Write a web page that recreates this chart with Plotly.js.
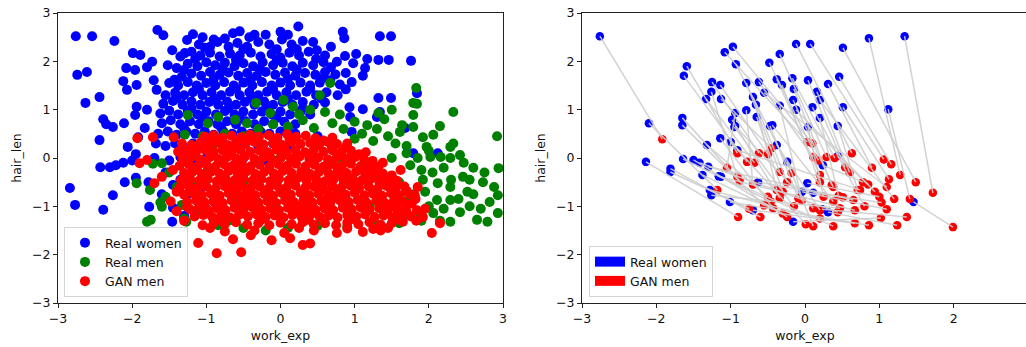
<!DOCTYPE html>
<html><head><meta charset="utf-8">
<script src="https://cdn.plot.ly/plotly-3.0.1.min.js"></script>
<style>html,body{margin:0;padding:0;overflow:hidden;background:#fff}#chart{width:1030px;height:347px}</style>
</head><body><div id="chart"></div>
<script>
// Left panel: real women (blue)
const realWomen = [
[-1.66,2.65],[-1.58,2.54],[-1.18,2.56],[-1.05,2.50],[-0.64,2.58],[-0.55,2.62],[-0.42,2.50],[-0.2,2.55],[0.0,2.61],[0.24,2.72],[-0.75,2.47],[0.84,2.61],[1.34,2.52],[1.49,2.52],[0.86,2.48],
[-2.76,2.52],[-2.54,2.52],[-2.24,2.42],[-2.74,1.72],[-2.61,1.78],
[-1.26,2.44],[-1.46,2.23],[-1.29,2.17],[-1.1,2.35],[-0.95,2.3],[-0.85,2.4],[-0.7,2.3],[-0.58,2.38],[-0.45,2.3],[-0.3,2.4],[-0.15,2.35],[0.02,2.45],[0.15,2.35],[0.3,2.42],[0.44,2.40],[0.68,2.30],[0.49,2.23],[-0.05,2.25],
[-1.99,2.17],[-1.89,2.13],[-1.73,1.99],[-1.52,1.92],[-1.35,2.1],[-1.2,2.2],[-1.08,2.12],[-0.95,2.18],[-0.82,2.1],[-0.68,2.16],[-0.55,2.12],[-0.4,2.18],[-0.27,2.1],[-0.12,2.15],[0.0,2.08],[0.12,2.18],[0.25,2.12],[0.38,2.2],[0.6,2.12],[0.87,2.11],[1.02,2.15],[0.76,1.99],[0.98,1.96],[1.17,2.05],[1.32,2.03],[1.46,2.03],[1.76,2.01],
[-2.08,1.86],[-1.96,1.82],[-1.80,1.88],[-1.40,1.86],[-1.25,1.95],[-1.12,1.9],[-1.0,1.98],[-0.88,1.92],[-0.75,1.97],[-0.62,1.9],[-0.5,1.96],[-0.37,1.9],[-0.24,1.98],[-0.1,1.92],[0.03,1.97],[0.16,1.9],[0.3,1.97],[0.44,1.92],[0.58,1.98],[1.14,1.86],
[-2.12,1.59],[-1.71,1.61],[-1.33,1.68],[-1.2,1.75],[-1.07,1.7],[-0.95,1.78],[-0.82,1.72],[-0.7,1.77],[-0.57,1.7],[-0.45,1.76],[-0.32,1.7],[-0.2,1.78],[-0.07,1.72],[0.06,1.77],[0.2,1.7],[0.33,1.76],[0.47,1.72],[0.6,1.78],[0.74,1.73],[1.11,1.70],[0.88,1.76],
[-2.07,1.41],[-1.94,1.51],[-1.67,1.41],[-1.5,1.55],[-1.38,1.5],[-1.25,1.57],[-1.13,1.5],[-1.0,1.55],[-0.88,1.5],[-0.76,1.57],[-0.63,1.5],[-0.5,1.56],[-0.38,1.5],[-0.25,1.57],[-0.12,1.5],[0.0,1.56],[0.13,1.5],[0.27,1.56],[0.4,1.5],[0.53,1.56],[0.67,1.61],[0.8,1.52],[0.96,1.57],
[-1.55,1.3],[-1.42,1.35],[-1.3,1.3],[-1.18,1.36],[-1.05,1.3],[-0.93,1.36],[-0.8,1.3],[-0.68,1.37],[-0.55,1.3],[-0.42,1.36],[-0.3,1.3],[-0.18,1.37],[-0.05,1.3],[0.08,1.36],[0.21,1.3],[0.35,1.37],[0.48,1.3],[0.62,1.36],[0.77,1.3],[1.32,1.24],[1.49,1.24],[1.84,1.34],
[-2.63,1.14],[-2.44,1.26],[-1.94,1.06],[-1.8,1.0],[-1.58,1.12],[-1.45,1.18],[-1.32,1.1],[-1.2,1.17],[-1.08,1.1],[-0.96,1.16],[-0.84,1.1],[-0.72,1.17],[-0.6,1.1],[-0.48,1.16],[-0.35,1.1],[-0.22,1.17],[-0.1,1.1],[0.03,1.16],[0.16,1.1],[0.3,1.16],[0.45,1.1],[0.6,1.15],[0.93,1.05],[1.11,1.01],[1.34,0.95],
[-1.96,0.89],[-1.62,0.92],[-1.5,0.98],[-1.38,0.9],[-1.25,0.97],[-1.12,0.9],[-1.0,0.96],[-0.87,0.9],[-0.75,0.97],[-0.62,0.9],[-0.5,0.96],[-0.37,0.9],[-0.25,0.96],[-0.12,0.9],[0.0,0.96],[0.13,0.9],[0.27,0.96],[0.4,0.9],[0.94,0.85],[1.30,0.85],
[-2.39,0.8],[-2.35,0.70],[-2.26,0.64],[-2.11,0.72],[-1.83,0.62],[-1.6,0.72],[-1.48,0.78],[-1.35,0.7],[-1.22,0.76],[-1.1,0.7],[-0.97,0.76],[-0.85,0.7],[-0.72,0.76],[-0.6,0.7],[-0.47,0.76],[-0.35,0.7],[-0.22,0.76],[-0.1,0.7],[0.05,0.75],[0.2,0.7],[0.96,0.54],[1.68,0.62],
[-2.44,0.37],[-2.06,0.23],[-1.92,0.43],[-1.65,0.5],[-1.52,0.55],[-1.4,0.48],[-1.27,0.55],[-1.15,0.5],[-1.02,0.55],[-0.9,0.48],[-0.77,0.55],[-0.65,0.5],[-0.52,0.55],[-0.4,0.5],[-0.27,0.55],[-0.15,0.5],[0.0,0.55],[0.2,0.5],[0.5,0.45],
[-1.95,0.08],[-1.68,0.3],[-1.55,0.25],[-1.42,0.3],[-1.3,0.22],[-1.18,0.3],[-1.05,0.25],[-0.9,0.3],[-0.7,0.25],[-0.5,0.3],[-0.3,0.25],[-0.1,0.3],[0.1,0.25],[1.79,0.1],[2.12,0.1],
[-2.43,-0.19],[-2.3,-0.19],[-2.22,-0.15],[-2.12,-0.1],[-2.0,-0.05],[-1.7,0.0],[-1.5,-0.05],[-1.35,0.02],[-1.2,-0.05],[-1.0,0.0],[-0.8,-0.05],[-0.5,0.0],[-0.2,-0.05],[0.2,0.0],
[-2.84,-0.62],[-2.77,-0.97],[-2.39,-1.07],[-2.26,-0.77],[-2.10,-0.50],[-1.95,-0.41],[-1.78,-0.50],[-1.77,-1.01],[-1.45,-1.03],[-1.46,-1.32],[-1.13,-1.12],[-1.45,-0.56],[-1.55,-0.3],[-1.35,-0.45],[-1.25,-0.75],[-1.6,-0.75],[-1.05,-0.6],[-0.9,-0.9],[-1.3,-1.2],[-1.2,-0.3],
[-0.9,2.45],[-0.35,2.55],[0.1,2.55],[-1.02,2.28],[-0.5,2.25],[0.22,2.25],[-1.15,2.05],[-0.6,2.03],[-0.05,2.02],[0.48,2.05],[-1.3,1.82],[-0.78,1.84],[-0.28,1.84],[0.22,1.83],[0.68,1.88],[-1.43,1.62],[-0.9,1.64],[-0.4,1.63],[0.1,1.64],[0.58,1.66],
[-1.1,1.43],[-0.6,1.44],[-0.1,1.43],[0.4,1.44],[0.88,1.42],[-1.4,1.23],[-0.88,1.22],[-0.4,1.23],[0.1,1.22],[0.55,1.23],[-1.2,1.03],[-0.7,1.03],[-0.2,1.02],[0.3,1.03],[-1.05,0.83],[-0.55,0.82],[-0.05,0.83],[-1.3,0.62],[-0.8,0.63],[-0.3,0.62],[0.1,0.6]
];
// Left panel: real men (green)
const realMen = [
[-0.33,1.14],[-0.14,0.93],[0.04,1.20],[0.17,1.06],[0.53,1.30],[0.67,1.55],[0.6,0.95],[1.83,1.45],[1.79,1.14],[1.84,1.12],[2.33,0.95],[-1.25,0.89],[-0.98,0.72],[-0.84,0.85],[-0.61,0.79],[-0.45,0.72],[-1.29,0.48],[1.32,0.93],[1.17,0.68],[1.79,0.89],[1.64,0.68],[1.61,0.54],[1.79,0.64],[2.15,0.66],[2.06,0.48],[1.92,0.43],[2.92,0.45],[-0.3,0.6],[-0.1,0.7],[0.1,0.65],[0.3,0.78],[0.45,0.62],[0.7,0.72],[0.85,0.6],[1.0,0.75],[1.1,0.5],[1.3,0.6],[1.45,0.45],[0.25,0.9],[0.4,1.0],[0.8,0.9],[1.0,0.4],[1.25,0.35],[-0.75,0.5],[-0.5,0.45],[-1.05,0.45],[-0.9,0.3],[-1.15,0.2],[1.4,0.8],[1.55,0.3],[1.7,0.25],[1.5,1.0],
[1.97,0.23],[2.29,0.23],[2.33,0.3],[2.02,0.02],[2.16,0.02],[2.29,0.0],[2.42,0.06],[2.47,-0.1],[2.94,-0.21],[2.46,-0.39],[2.55,-0.45],[2.73,-0.50],[2.93,-0.77],[2.93,-1.14],[2.52,-0.70],[2.6,-0.75],[2.29,-0.60],[2.12,-0.52],[1.92,-0.45],[2.11,-0.87],[2.29,-0.87],[2.42,-1.12],[2.29,-1.32],[2.06,-1.14],[2.65,-1.28],[2.79,-1.32],[2.82,-0.91],[2.88,-0.6],[1.85,0.0],[1.75,-0.15],[1.9,-0.25],[2.05,-0.3],[2.2,-0.2],[1.8,-0.75],[1.95,-0.7],[2.0,-1.0],[2.2,-1.05],[2.15,-1.3],[1.9,-1.3],[2.55,-1.0],[2.7,-1.05],[2.6,-0.2],[2.75,-0.3],[1.7,0.1],[2.3,-0.45],[1.85,-1.1],[2.4,-0.85],[2.0,0.15],
[-1.60,-0.11],[-1.72,-0.12],[-1.94,-0.52],[-1.76,-0.66],[-1.80,-1.32],[-1.75,-1.28],[-1.60,-1.01],[-1.62,-0.92],[-1.27,-1.32],[-1.3,-1.25],[-1.33,-0.97],[-1.09,-0.91],[-1.1,-1.05],[-0.84,-1.39],[-0.7,-1.3],[-0.5,-1.45],[-1.5,-0.3],[-1.4,-0.6],[-1.2,-0.5],[-1.0,-0.3],[-0.75,-1.2],[-1.55,-0.8],
[-0.2,-1.5],[0.1,-1.45],[0.5,-1.4],[0.9,-1.42],[1.3,-1.4],[1.6,-1.35],[1.7,-0.9],[1.6,-0.5],[1.5,0.0],[1.65,-1.2],
[0.0,0.0],[0.5,-0.5],[1.0,-0.5],[0.3,-1.0],[-0.5,-0.5],[0.8,0.0],[1.2,-1.0],[-0.3,-1.0]
];
// Left panel: GAN men (red)
const ganMen = [
[-1.02,0.44],[-0.9,0.47],[-0.78,0.42],[-0.66,0.46],[-0.53,0.43],[-0.41,0.48],[-0.29,0.44],[-0.16,0.47],[-0.04,0.42],[0.09,0.49],[0.21,0.44],[0.34,0.46],[0.47,0.41],
[-1.33,0.30],[-1.2,0.27],[-1.08,0.32],[-0.96,0.28],[-0.84,0.31],[-0.72,0.27],[-0.6,0.32],[-0.47,0.29],[-0.35,0.33],[-0.23,0.28],[-0.1,0.31],[0.02,0.27],[0.15,0.33],[0.27,0.29],[0.4,0.31],[0.52,0.27],[0.64,0.33],[0.76,0.29],[0.88,0.22],
[-1.38,0.13],[-1.26,0.16],[-1.14,0.12],[-1.02,0.17],[-0.9,0.13],[-0.78,0.16],[-0.66,0.12],[-0.54,0.17],[-0.41,0.13],[-0.29,0.16],[-0.17,0.12],[-0.05,0.17],[0.08,0.13],[0.2,0.16],[0.33,0.12],[0.45,0.17],[0.58,0.13],[0.7,0.16],[0.82,0.12],[0.95,0.15],[1.06,0.08],
[-1.32,-0.01],[-1.2,0.02],[-1.08,-0.03],[-0.96,0.01],[-0.84,-0.02],[-0.72,0.02],[-0.6,-0.01],[-0.48,0.03],[-0.35,-0.02],[-0.23,0.01],[-0.11,-0.03],[0.01,0.02],[0.14,-0.01],[0.26,0.03],[0.39,-0.02],[0.51,0.01],[0.64,-0.03],[0.76,0.02],[0.88,-0.01],[1.01,0.02],[1.13,-0.04],[1.24,-0.06],
[-1.36,-0.16],[-1.24,-0.13],[-1.12,-0.17],[-1.0,-0.14],[-0.88,-0.18],[-0.76,-0.13],[-0.64,-0.16],[-0.52,-0.12],[-0.4,-0.17],[-0.28,-0.14],[-0.15,-0.18],[-0.03,-0.13],[0.09,-0.16],[0.21,-0.12],[0.34,-0.17],[0.46,-0.14],[0.58,-0.18],[0.71,-0.13],[0.83,-0.16],[0.95,-0.12],[1.08,-0.17],[1.2,-0.14],[1.32,-0.18],
[-1.3,-0.31],[-1.18,-0.28],[-1.06,-0.33],[-0.94,-0.29],[-0.82,-0.32],[-0.7,-0.27],[-0.58,-0.31],[-0.46,-0.28],[-0.34,-0.33],[-0.22,-0.29],[-0.09,-0.32],[0.03,-0.27],[0.15,-0.31],[0.28,-0.28],[0.4,-0.33],[0.52,-0.29],[0.65,-0.32],[0.77,-0.27],[0.89,-0.31],[1.02,-0.28],[1.14,-0.33],[1.26,-0.29],[1.38,-0.32],[1.5,-0.36],
[-1.34,-0.46],[-1.22,-0.43],[-1.1,-0.47],[-0.98,-0.44],[-0.86,-0.48],[-0.74,-0.43],[-0.62,-0.46],[-0.5,-0.42],[-0.38,-0.47],[-0.26,-0.44],[-0.14,-0.48],[-0.02,-0.43],[0.11,-0.46],[0.23,-0.42],[0.35,-0.47],[0.48,-0.44],[0.6,-0.48],[0.72,-0.43],[0.85,-0.46],[0.97,-0.42],[1.09,-0.47],[1.21,-0.44],[1.33,-0.48],[1.45,-0.43],[1.57,-0.47],
[-1.36,-0.61],[-1.24,-0.58],[-1.12,-0.62],[-1.0,-0.59],[-0.88,-0.63],[-0.76,-0.58],[-0.64,-0.61],[-0.52,-0.57],[-0.4,-0.62],[-0.28,-0.59],[-0.16,-0.63],[-0.04,-0.58],[0.08,-0.61],[0.2,-0.57],[0.33,-0.62],[0.45,-0.59],[0.57,-0.63],[0.7,-0.58],[0.82,-0.61],[0.94,-0.57],[1.06,-0.62],[1.19,-0.59],[1.31,-0.63],[1.43,-0.58],[1.55,-0.62],[1.67,-0.59],
[-1.3,-0.76],[-1.18,-0.73],[-1.06,-0.77],[-0.94,-0.74],[-0.82,-0.78],[-0.7,-0.73],[-0.58,-0.76],[-0.46,-0.72],[-0.34,-0.77],[-0.22,-0.74],[-0.1,-0.78],[0.02,-0.73],[0.14,-0.76],[0.27,-0.72],[0.39,-0.77],[0.51,-0.74],[0.64,-0.78],[0.76,-0.73],[0.88,-0.76],[1.0,-0.72],[1.13,-0.77],[1.25,-0.74],[1.37,-0.78],[1.49,-0.73],[1.61,-0.77],[1.74,-0.75],
[-1.26,-0.91],[-1.14,-0.88],[-1.02,-0.92],[-0.9,-0.89],[-0.78,-0.93],[-0.66,-0.88],[-0.54,-0.91],[-0.42,-0.87],[-0.3,-0.92],[-0.18,-0.89],[-0.06,-0.93],[0.06,-0.88],[0.18,-0.91],[0.31,-0.87],[0.43,-0.92],[0.55,-0.89],[0.67,-0.93],[0.8,-0.88],[0.92,-0.91],[1.04,-0.87],[1.16,-0.92],[1.29,-0.89],[1.41,-0.93],[1.53,-0.88],[1.65,-0.91],[1.77,-0.94],
[-1.22,-1.06],[-1.1,-1.03],[-0.98,-1.07],[-0.86,-1.04],[-0.74,-1.08],[-0.62,-1.03],[-0.5,-1.06],[-0.38,-1.02],[-0.26,-1.07],[-0.14,-1.04],[-0.02,-1.08],[0.1,-1.03],[0.22,-1.06],[0.35,-1.02],[0.47,-1.07],[0.59,-1.04],[0.71,-1.08],[0.84,-1.03],[0.96,-1.06],[1.08,-1.02],[1.2,-1.07],[1.33,-1.04],[1.45,-1.08],[1.57,-1.03],[1.69,-1.07],[1.84,-1.08],
[-1.16,-1.21],[-1.04,-1.18],[-0.92,-1.22],[-0.8,-1.19],[-0.68,-1.23],[-0.56,-1.18],[-0.44,-1.21],[-0.32,-1.17],[-0.2,-1.22],[-0.08,-1.19],[0.04,-1.23],[0.16,-1.18],[0.28,-1.21],[0.41,-1.17],[0.53,-1.22],[0.65,-1.19],[0.77,-1.23],[0.9,-1.18],[1.02,-1.21],[1.14,-1.17],[1.27,-1.22],[1.39,-1.19],[1.51,-1.23],[1.63,-1.18],[1.76,-1.21],[1.92,-1.22],
[-1.05,-1.39],[-0.9,-1.34],[-0.75,-1.37],[-0.6,-1.33],[-0.45,-1.38],[-0.3,-1.35],[-0.15,-1.39],[0.0,-1.34],[0.15,-1.37],[0.3,-1.33],[0.45,-1.38],[0.6,-1.35],[0.75,-1.39],[0.9,-1.34],[1.05,-1.37],[1.2,-1.33],[1.35,-1.38],[1.5,-1.35],[1.65,-1.32],[2.15,-1.35],
[-0.75,-1.52],[-0.35,-1.5],[0.05,-1.55],[0.45,-1.5],[0.76,-1.55],[1.11,-1.53],[1.45,-1.45],[2.04,-1.55],
[-1.93,0.41],[-1.72,0.43],[-1.44,0.43],[-1.90,-0.11],[-1.80,-0.04],[-1.60,-0.39],[-1.70,-0.52],[-1.40,-0.70],[-1.26,-1.01],[-1.11,-1.76],[-0.86,-1.97],[-0.53,-1.95],[-0.64,-1.68],[-0.12,-1.70],[0.30,-1.80],[0.40,-1.77],[1.81,-0.77],[1.70,-1.12],[0.13,-1.66],[-0.4,-1.6],[1.35,-1.5],
[-0.95,0.38],[-0.45,0.36],[0.12,0.40],[0.58,0.36],[-1.15,0.22],[-0.62,0.21],[0.05,0.21],[0.69,0.25],[-1.23,0.06],[-0.71,0.08],[-0.15,0.06],[0.42,0.07],[0.98,0.05],[-1.18,-0.22],[-0.55,-0.22],[0.1,-0.23],[0.62,-0.22],[1.16,-0.24],[-1.25,-0.38],[-0.8,-0.39],[-0.27,-0.37],[0.3,-0.38],[0.83,-0.37],[1.32,-0.4],
[-1.28,-0.53],[-0.7,-0.52],[-0.09,-0.53],[0.52,-0.52],[1.04,-0.54],[1.5,-0.53],[-1.2,-0.68],[-0.59,-0.67],[0.0,-0.68],[0.63,-0.67],[1.24,-0.68],[1.7,-0.68],[-1.12,-0.83],[-0.5,-0.82],[0.1,-0.84],[0.72,-0.82],[1.33,-0.83],[1.82,-0.85],[-1.06,-0.98],[-0.43,-0.97],[0.21,-0.99],[0.85,-0.98],[1.47,-0.99],
[-0.97,-1.13],[-0.33,-1.12],[0.3,-1.13],[0.95,-1.12],[1.58,-1.13],[-0.85,-1.28],[-0.25,-1.27],[0.38,-1.28],[1.0,-1.27],[1.6,-1.27],[1.83,-1.3],[-0.95,-1.45],[0.25,-1.45],[0.9,-1.46],[1.25,-1.47],[1.85,-0.6],[1.95,-1.05],[1.62,-0.25],[1.38,-0.1],[1.15,0.12],[0.9,0.3],[0.7,0.42],[-1.45,-0.25],[-1.48,-0.9],[-1.4,-1.1],[-1.3,-1.3]
];
// Right panel: sampled real women and their GAN counterparts (paired by index)
const sampleWomen = [
[-2.76,2.52],[-2.10,0.72],[-2.14,-0.08],[-1.81,-0.22],[-1.65,0.83],[-1.65,0.68],[-1.59,1.90],[-1.63,1.70],[-1.64,-0.02],[-1.50,-0.04],
[-1.33,1.22],[-1.25,1.57],[-1.14,1.51],[-1.26,1.37],[-1.13,1.22],[-1.08,2.19],[-0.97,2.30],[-0.93,1.94],[-1.14,0.41],[-1.32,0.27],
[-0.98,0.79],[-0.95,0.64],[-1.00,0.33],[-0.79,1.55],[-0.62,1.57],[-0.70,1.26],[-0.66,1.10],[-0.65,0.85],[-0.79,0.99],[-0.48,1.97],
[-0.47,0.66],[-0.34,2.15],[-0.12,2.36],[0.07,2.36],[-0.38,1.63],[-0.31,1.51],[-0.17,1.65],[-0.15,1.43],[-0.16,1.20],[-0.34,1.08],
[0.04,1.61],[0.16,1.37],[0.31,1.53],[0.46,1.68],[0.20,0.83],[0.04,0.64],[0.44,0.66],[-0.94,0.93],[-0.94,0.66],[-0.38,0.27],
[0.51,2.28],[0.86,2.48],[1.34,2.52],[0.51,1.05],[1.12,1.01],[-0.44,0.68],[0.24,-0.15],[0.44,0.04],[-0.24,-0.08],[-1.81,-0.29],
[-1.38,-0.35],[-1.13,-0.39],[-1.28,-0.66],[-1.26,-0.77],[-1.01,-0.91],[-0.70,-1.08],[-0.63,-0.50],[-1.42,-0.10],[-1.30,-0.18],[-1.16,-0.38],
[-0.91,0.16],[0.03,-0.52],[0.11,-0.72],[0.31,-1.12],[-0.16,-1.32],[0.23,-1.06],[1.46,-0.91],[-0.04,-0.70],[-0.12,1.00],[0.20,1.20],
[-0.55,1.35],[0.10,1.05]
];
const sampleGan = [
[-1.92,0.39],[-1.18,-0.66],[-0.90,-1.22],[-0.60,-1.22],[-0.88,-0.47],[-0.55,-0.98],[-0.91,0.10],[-0.78,-0.08],[-0.46,-0.90],[-0.24,-1.22],
[-0.68,-0.10],[-0.62,0.10],[-0.50,0.08],[-0.91,-0.39],[-0.45,0.20],[0.03,0.33],[0.10,0.30],[-0.18,-0.31],[-0.43,-1.04],[-0.50,-0.80],
[-0.34,-0.83],[-0.15,-1.00],[0.01,-1.37],[-0.34,-0.29],[0.11,0.02],[-0.24,-0.50],[-0.38,-0.66],[-0.30,-0.70],[-0.70,-0.55],[0.18,-0.05],
[-0.09,-0.83],[0.29,0.02],[0.63,0.10],[1.06,-0.03],[0.20,-0.35],[0.20,-0.50],[0.40,0.00],[0.36,-0.56],[0.38,-0.60],[-0.04,-0.88],
[0.54,-0.19],[0.60,-0.30],[0.90,-0.20],[1.16,-0.13],[0.45,-0.78],[0.25,-0.80],[0.71,-0.66],[-1.05,-0.20],[0.11,-1.04],[0.20,-1.08],
[1.49,-0.50],[1.28,-0.35],[1.72,-0.72],[1.13,-0.44],[1.41,-0.85],[0.38,-0.90],[0.78,-0.50],[0.85,-0.55],[0.11,-1.41],[-0.75,-1.05],
[-0.30,-1.15],[0.38,-1.41],[0.20,-1.25],[0.47,-1.04],[0.86,-1.39],[0.67,-1.35],[0.51,-0.81],[0.44,-1.12],[0.65,-0.87],[0.67,-1.08],
[0.74,-0.66],[1.00,-0.80],[1.03,-0.92],[1.24,-1.39],[1.02,-1.24],[1.37,-1.22],[1.99,-1.43],[1.10,-1.06],[0.94,-0.70],[1.20,-0.85],
[1.10,-0.60],[0.80,-1.00]
];
const seriesNames = ['Real women', 'Real men', 'GAN men'];
const seriesColors = ['blue', 'green', 'red'];
const tickVals = [-3, -2, -1, 0, 1, 2, 3];

const W = 1030;
const FONT = {family: 'DejaVu Sans, sans-serif', size: 12.5, color: '#111'};
const xs = a => a.map(p => p[0]);
const ys = a => a.map(p => p[1]);

const traces = [];
[realWomen, realMen, ganMen].forEach((s, i) => {
  traces.push({type: 'scatter', mode: 'markers', x: xs(s), y: ys(s), name: seriesNames[i],
    marker: {color: seriesColors[i], size: 10, line: {width: 0}}, xaxis: 'x', yaxis: 'y', legend: 'legend', hoverinfo: 'skip'});
});
traces.push({type: 'scatter', mode: 'markers', x: xs(sampleWomen), y: ys(sampleWomen), showlegend: false,
  marker: {color: 'blue', size: 8.5, line: {width: 0}}, xaxis: 'x2', yaxis: 'y2', hoverinfo: 'skip'});
traces.push({type: 'scatter', mode: 'markers', x: xs(sampleGan), y: ys(sampleGan), showlegend: false,
  marker: {color: 'red', size: 8.5, line: {width: 0}}, xaxis: 'x2', yaxis: 'y2', hoverinfo: 'skip'});
const lx = [], ly = [];
sampleWomen.forEach((w, i) => { lx.push(w[0], sampleGan[i][0], null); ly.push(w[1], sampleGan[i][1], null); });
traces.push({type: 'scatter', mode: 'lines', x: lx, y: ly, showlegend: false, connectgaps: false,
  line: {color: 'rgba(205,205,205,0.9)', width: 1.5}, xaxis: 'x2', yaxis: 'y2', hoverinfo: 'skip'});
[0, 2].forEach(i => {
  traces.push({type: 'scatter', mode: 'lines', x: [null], y: [null], name: seriesNames[i],
    line: {color: seriesColors[i], width: 10}, xaxis: 'x2', yaxis: 'y2', legend: 'legend2', hoverinfo: 'skip'});
});

function axis(domain, anchor, isX, titleText) {
  return {domain: domain, anchor: anchor, range: [-3, 3], tickmode: 'array', tickvals: tickVals,
    showgrid: false, zeroline: false, showline: true, mirror: true, linecolor: '#222', linewidth: 1,
    ticks: 'outside', ticklen: 4, tickwidth: 1, tickcolor: '#222', tickfont: FONT,
    title: {text: titleText, font: FONT, standoff: isX ? 6 : 7}, automargin: false};
}
const legendBase = {xanchor: 'left', yanchor: 'bottom', bgcolor: 'rgba(255,255,255,0.85)', bordercolor: '#d5d5d5',
  borderwidth: 1, font: FONT};
const layout = {
  width: W, height: 347, margin: {l: 0, r: 0, t: 13, b: 44},
  paper_bgcolor: '#fff', plot_bgcolor: '#fff', font: FONT,
  xaxis: axis([58 / W, 503 / W], 'y', true, 'work_exp'),
  yaxis: axis([0, 1], 'x', false, 'hair_len'),
  xaxis2: axis([582 / W, 1028 / W], 'y2', true, 'work_exp'),
  yaxis2: axis([0, 1], 'x2', false, 'hair_len'),
  legend: Object.assign({x: 64 / W, y: 6 / 290}, legendBase),
  legend2: Object.assign({x: 589 / W, y: 6 / 290}, legendBase),
  showlegend: true
};
Plotly.newPlot('chart', traces, layout, {staticPlot: true, displayModeBar: false});
</script>
</body></html>
